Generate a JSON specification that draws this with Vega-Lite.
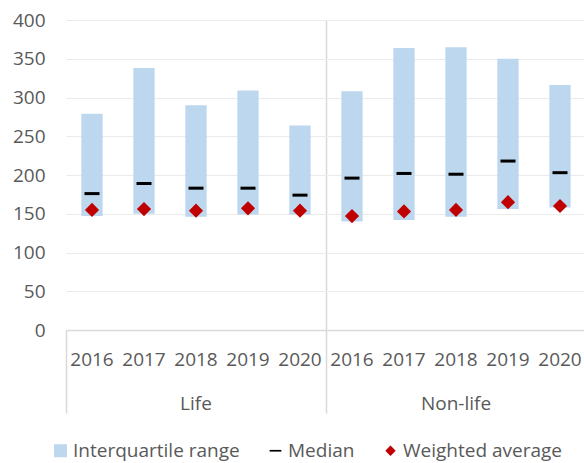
{
  "$schema": "https://vega.github.io/schema/vega-lite/v6.json",
  "width": 520,
  "height": 310,
  "autosize": {"type": "none"},
  "padding": {"left": 66, "top": 20, "right": 0, "bottom": 133},
  "background": "white",
  "config": {
    "view": {"stroke": null},
    "font": "Open Sans",
    "axis": {"labelFont": "Open Sans", "labelColor": "#595959", "labelFontSize": 19},
    "legend": {
      "orient": "none",
      "legendX": -15,
      "legendY": 421,
      "direction": "horizontal",
      "title": null,
      "padding": 0,
      "labelFont": "Open Sans",
      "labelFontSize": 19,
      "labelColor": "#595959",
      "labelLimit": 400,
      "symbolSize": 169,
      "symbolStrokeWidth": 0,
      "symbolOpacity": 1,
      "columnPadding": 26,
      "labelOffset": 3
    }
  },
  "data": {
    "values": [
      {"cat": "Life|2016", "group": "Life", "year": "2016", "q1": 147, "q3": 279, "median": 176, "avg": 155},
      {"cat": "Life|2017", "group": "Life", "year": "2017", "q1": 150, "q3": 338, "median": 189, "avg": 156},
      {"cat": "Life|2018", "group": "Life", "year": "2018", "q1": 146, "q3": 290, "median": 183, "avg": 154},
      {"cat": "Life|2019", "group": "Life", "year": "2019", "q1": 149, "q3": 309, "median": 183, "avg": 157},
      {"cat": "Life|2020", "group": "Life", "year": "2020", "q1": 149, "q3": 264, "median": 174, "avg": 154},
      {"cat": "Non-life|2016", "group": "Non-life", "year": "2016", "q1": 140, "q3": 308, "median": 196, "avg": 147},
      {"cat": "Non-life|2017", "group": "Non-life", "year": "2017", "q1": 142, "q3": 364, "median": 202, "avg": 153},
      {"cat": "Non-life|2018", "group": "Non-life", "year": "2018", "q1": 146, "q3": 365, "median": 201, "avg": 155},
      {"cat": "Non-life|2019", "group": "Non-life", "year": "2019", "q1": 156, "q3": 350, "median": 218, "avg": 165},
      {"cat": "Non-life|2020", "group": "Non-life", "year": "2020", "q1": 158, "q3": 316, "median": 203, "avg": 160}
    ]
  },
  "encoding": {
    "x": {
      "field": "cat",
      "type": "nominal",
      "sort": null,
      "scale": {"paddingInner": 0, "paddingOuter": 0},
      "axis": {
        "title": null,
        "labelAngle": 0,
        "bandPosition": 0,
        "domainColor": "#D9D9D9",
        "domainWidth": 1.5,
        "ticks": true,
        "tickSize": 83,
        "tickWidth": 1.5,
        "tickColor": "#D9D9D9",
        "tickOpacity": {"condition": {"test": "datum.value === 'Life|2016' || datum.value === 'Non-life|2016'", "value": 1}, "value": 0},
        "grid": true,
        "gridColor": "#D9D9D9",
        "gridWidth": 1.5,
        "gridOpacity": {"condition": {"test": "datum.value === 'Non-life|2016'", "value": 1}, "value": 0},
        "labelPadding": -63,
        "labelBaseline": "top",
        "labelLineHeight": 44,
        "labelExpr": "datum.value === 'Life|2018' ? ['2018', 'Life'] : datum.value === 'Non-life|2018' ? ['2018', 'Non-life'] : split(datum.value, '|')[1]"
      }
    }
  },
  "layer": [
    {
      "mark": {"type": "bar", "width": {"band": 0.41}, "opacity": 1},
      "encoding": {
        "y": {
          "field": "q1",
          "type": "quantitative",
          "scale": {"domain": [0, 400], "nice": false},
          "axis": {
            "title": null,
            "values": [0, 50, 100, 150, 200, 250, 300, 350, 400],
            "tickCount": 20,
            "labelOverlap": false,
            "domain": false,
            "ticks": false,
            "labelPadding": 21,
            "gridColor": "#EBEBEB",
            "gridWidth": 1
          }
        },
        "y2": {"field": "q3"},
        "color": {
          "datum": "Interquartile range",
          "type": "nominal",
          "scale": {
            "domain": ["Interquartile range", "Median", "Weighted average"],
            "range": ["#BDD7EE", "#000000", "#C00000"]
          },
          "legend": {
            "encode": {
              "symbols": {
                "update": {
                  "shape": {"signal": "datum.value === 'Median' ? 'M-0.9,-0.13H0.9V0.13H-0.9Z' : datum.value === 'Weighted average' ? 'M0,-0.8L0.8,0L0,0.8L-0.8,0Z' : 'square'"}
                }
              }
            }
          }
        }
      }
    },
    {
      "mark": {"type": "tick", "size": 15, "thickness": 3, "opacity": 1},
      "encoding": {
        "y": {"field": "median", "type": "quantitative"},
        "color": {"datum": "Median", "type": "nominal"}
      }
    },
    {
      "mark": {"type": "point", "shape": "diamond", "filled": true, "size": 200, "opacity": 1},
      "encoding": {
        "y": {"field": "avg", "type": "quantitative"},
        "color": {"datum": "Weighted average", "type": "nominal"}
      }
    }
  ]
}
